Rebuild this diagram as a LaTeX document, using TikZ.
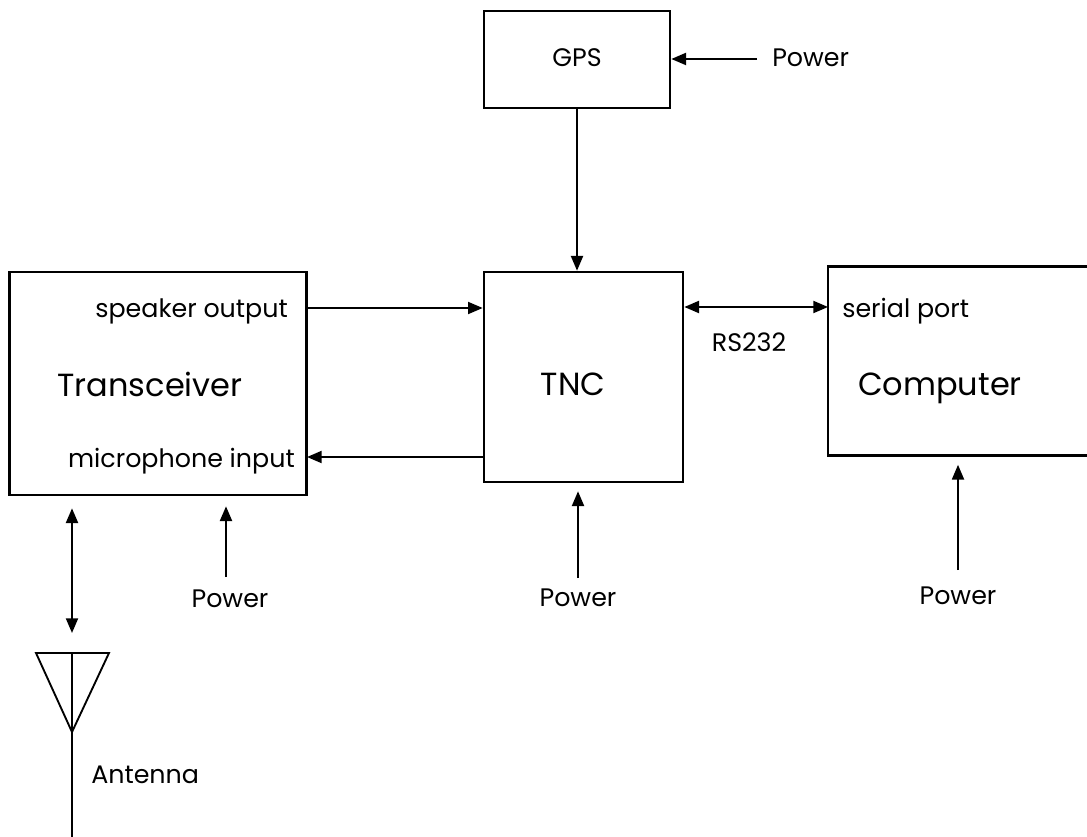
\documentclass[tikz,border=0pt]{standalone}
\usepackage{fontspec}
\setmainfont{Poppins}
\usetikzlibrary{positioning,arrows.meta}

\begin{document}
\begin{tikzpicture}[
x=0.75pt, y=-0.75pt,
box/.style={draw, line width=2pt, inner sep=0pt},
lbl/.style={inner sep=0pt, font=\fontsize{19}{22}\selectfont},
big/.style={inner sep=0pt, font=\fontsize{24}{28}\selectfont},
wire/.style={line width=1.4pt},
>={Triangle[length=11pt,width=9pt]}
]
\useasboundingbox (0,0) rectangle (1087,837);

% blocks
\node (gps) [box, minimum width=186*0.75pt, minimum height=97*0.75pt] at (577,59.5) {};
\node (tnc) [box, minimum width=199*0.75pt, minimum height=210*0.75pt] at (583.5,377) {};
\node (trx) [box, minimum width=297*0.75pt, minimum height=223*0.75pt] at (158,383.5) {};
\node (pc) [box, minimum width=270*0.75pt, minimum height=189*0.75pt] at (963,361) {};

% block texts
\node (gpstxt) [lbl, anchor=base] at (577,67) {GPS};
\node (tnctxt) [big, anchor=base] at (573,395) {TNC};
\node (trxtxt) [big, anchor=base] at (150,397) {Transceiver};
\node (pctxt) [big, anchor=base] at (940,395) {Computer};
\node (spktxt) [lbl, anchor=base east] at (288,318) {speaker output};
\node (mictxt) [lbl, anchor=base east] at (295,467) {microphone input};
\node (sertxt) [lbl, anchor=base west] at (842,318) {serial port};
\node (rs) [lbl, anchor=base] at (749,352) {RS232};

% power labels
\node (pgps) [lbl, anchor=base west] at (772,67) {Power};
\node (ptnc) [lbl, anchor=base] at (578,606) {Power};
\node (ptrx) [lbl, anchor=base] at (230,607) {Power};
\node (ppc) [lbl, anchor=base] at (958,604) {Power};

% port coordinates
\coordinate (spk) at (307,308);
\coordinate (mic) at (307,457);
\coordinate (ser) at (828,307);
\coordinate (ant) at (72,653);
\coordinate (gpsin) at (757,59);
\coordinate (tncin) at (578,578);
\coordinate (trxin) at (226,577);
\coordinate (pcin) at (958,570);

% signal connectors
\draw[->, wire] (gps.south) -- (gps.south |- tnc.north);
\draw[->, wire] (spk) -- (spk -| tnc.west);
\draw[->, wire] (mic -| tnc.west) -- (mic);
\draw[<->, wire] (ser -| tnc.east) -- (ser);

% power connectors
\draw[->, wire] (gpsin) -- (gpsin -| gps.east);
\draw[->, wire, shorten >=8*0.75pt] (tncin) -- (tncin |- tnc.south);
\draw[->, wire, shorten >=8*0.75pt] (pcin) -- (pcin |- pc.south);
\draw[->, wire, shorten >=10*0.75pt] (trxin) -- (trxin |- trx.south);

% antenna
\draw[<->, wire, shorten <=12*0.75pt, shorten >=20*0.75pt] (trx.south -| ant) -- (ant);
\draw[wire] (36,653) -- (109,653) -- (72,732) -- cycle;
\draw[wire] (ant) -- (72,837);
\node (anttxt) [lbl, anchor=base west] at (91,783) {Antenna};

\end{tikzpicture}
\end{document}
